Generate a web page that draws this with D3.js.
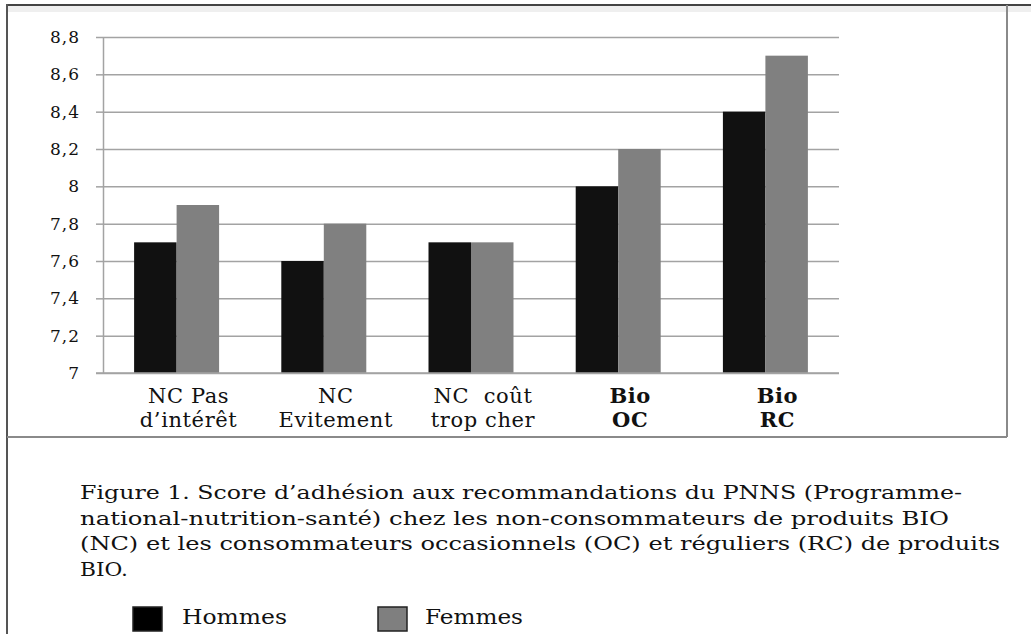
<!DOCTYPE html>
<meta charset="utf-8"/>
<style>
  body { margin: 0; background: #fff; }
  text { font-family: "DejaVu Serif", serif; fill: #111; }
</style>
<svg width="1031" height="634"></svg>
<script src="https://d3js.org/d3.v7.min.js"></script>
<script>

// values
var categories = [["NC Pas", "d’intérêt"], ["NC", "Evitement"], ["NC  coût", "trop cher"], ["Bio", "OC"], ["Bio", "RC"]];
var boldCategory = [false, false, false, true, true];
var hommes = [7.7, 7.6, 7.7, 8.0, 8.4];
var femmes = [7.9, 7.8, 7.7, 8.2, 8.7];
var yTicks = [7, 7.2, 7.4, 7.6, 7.8, 8, 8.2, 8.4, 8.6, 8.8];
var seriesNames = ["Hommes", "Femmes"];
var seriesColors = ["#111111", "#808080"];
var caption = [
  "Figure 1. Score d’adhésion aux recommandations du PNNS (Programme-",
  "national-nutrition-santé) chez les non-consommateurs de produits BIO",
  "(NC) et les consommateurs occasionnels (OC) et réguliers (RC) de produits",
  "BIO."
];

var svg = d3.select("svg");
var fr = d3.formatLocale({decimal: ",", thousands: " ", grouping: [3], currency: ["", " €"]});
var fmt = fr.format("~g");

// frame
svg.append("rect").attr("x", 8).attr("y", 6).attr("width", 1023).attr("height", 6).attr("fill", "#efefef");
svg.append("line").attr("x1", 7).attr("x2", 1031).attr("y1", 5).attr("y2", 5)
    .attr("stroke", "#444").attr("stroke-width", 2);
svg.append("line").attr("x1", 7).attr("x2", 7).attr("y1", 4).attr("y2", 634)
    .attr("stroke", "#555").attr("stroke-width", 2);
svg.append("line").attr("x1", 1007).attr("x2", 1007).attr("y1", 5).attr("y2", 437)
    .attr("stroke", "#8a8a8a").attr("stroke-width", 2);
svg.append("line").attr("x1", 7).attr("x2", 1007).attr("y1", 437).attr("y2", 437)
    .attr("stroke", "#8a8a8a").attr("stroke-width", 2);

var x = d3.scaleBand()
    .domain(d3.range(categories.length))
    .range([103, 839]);

var x1 = d3.scaleBand()
    .domain([0, 1])
    .range([0, x.bandwidth()])
    .paddingOuter(0.732);

var y = d3.scaleLinear()
    .domain([7, 8.8])
    .range([373, 37]);

// grid
svg.append("g")
    .attr("transform", "translate(103,0)")
    .call(d3.axisLeft(y).tickValues(yTicks).tickSize(-736).tickFormat(""))
    .call(function(g) {
      g.select(".domain").remove();
      g.selectAll("line").attr("stroke", "#a3a3a3").attr("stroke-width", 1.5);
    });

// bars
var groups = svg.append("g").selectAll("g")
    .data(categories.map(function(c, i) { return i; }))
    .join("g")
      .attr("transform", function(i) { return "translate(" + x(i) + ",0)"; });

groups.selectAll("rect")
    .data(function(i) { return [hommes[i], femmes[i]]; })
    .join("rect")
      .attr("x", function(d, j) { return x1(j); })
      .attr("width", x1.bandwidth())
      .attr("y", function(d) { return y(d); })
      .attr("height", function(d) { return y(7) - y(d); })
      .attr("fill", function(d, j) { return seriesColors[j]; });

// y axis
svg.append("g")
    .attr("transform", "translate(103,0)")
    .call(d3.axisLeft(y).tickValues(yTicks).tickSize(7).tickSizeOuter(0).tickPadding(16).tickFormat(fmt))
    .call(function(g) {
      g.select(".domain").attr("stroke", "#a3a3a3").attr("stroke-width", 1.5);
      g.selectAll("line").attr("stroke", "#a3a3a3").attr("stroke-width", 1.5);
      g.selectAll("text")
          .style("font-family", "DejaVu Serif")
          .style("font-size", "17px")
          .style("letter-spacing", "1px")
          .attr("fill", "#222");
    });

// baseline
svg.append("line")
    .attr("x1", 96).attr("x2", 839).attr("y1", y(7)).attr("y2", y(7))
    .attr("stroke", "#a3a3a3").attr("stroke-width", 1.5);

// category labels
var lab = svg.append("g").selectAll("text")
    .data(categories)
    .join("text")
      .attr("text-anchor", "middle")
      .attr("xml:space", "preserve")
      .style("white-space", "pre")
      .style("font-size", "21px")
      .style("letter-spacing", "0.6px")
      .style("font-weight", function(d, i) { return boldCategory[i] ? "bold" : "normal"; });

lab.selectAll("tspan")
    .data(function(d, i) { return d.map(function(s) { return {s: s, i: i}; }); })
    .join("tspan")
      .attr("x", function(d) { return x(d.i) + x.bandwidth() / 2 + 12; })
      .attr("y", function(d, k) { return 403 + k * 24; })
      .text(function(d) { return d.s; });

// caption
var capWidths = [882, 869, 920, 48];
svg.append("g").selectAll("text")
    .data(caption)
    .join("text")
      .attr("x", 80)
      .attr("y", function(d, i) { return 499 + i * 25.5; })
      .attr("textLength", function(d, i) { return capWidths[i]; })
      .attr("lengthAdjust", "spacingAndGlyphs")
      .style("font-size", "19px")
      .attr("fill", "#222")
      .text(function(d) { return d; });

// legend
var legend = svg.append("g").selectAll("g")
    .data(seriesNames)
    .join("g")
      .attr("transform", function(d, i) { return "translate(" + [133, 378][i] + ",607)"; });

legend.append("rect")
    .attr("width", 29).attr("height", 24)
    .attr("fill", function(d, i) { return i ? "#7f7f7f" : "#000"; })
    .attr("stroke", "#222").attr("stroke-width", 1.5);

legend.append("text")
    .attr("x", function(d, i) { return [49, 47][i]; })
    .attr("y", 17)
    .attr("textLength", function(d, i) { return [105, 98][i]; })
    .attr("lengthAdjust", "spacingAndGlyphs")
    .style("font-size", "20px")
    .attr("fill", "#222")
    .text(function(d) { return d; });

</script>
